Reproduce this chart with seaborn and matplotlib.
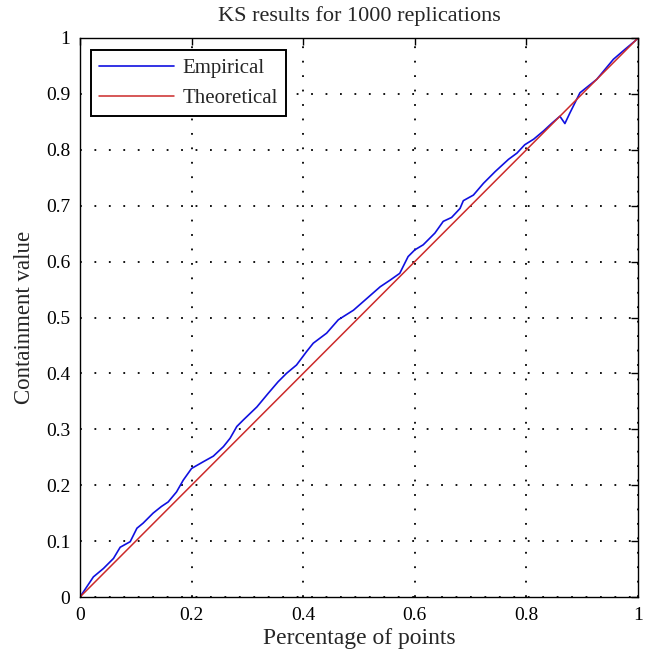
import matplotlib
matplotlib.use("Agg")
import matplotlib.pyplot as plt
import seaborn as sns
import pandas as pd

emp_x = [0.000, 0.024, 0.042, 0.060, 0.072, 0.090, 0.102, 0.113, 0.131, 0.146,
         0.158, 0.173, 0.185, 0.200, 0.221, 0.239, 0.257, 0.269, 0.281, 0.293,
         0.317, 0.337, 0.355, 0.370, 0.388, 0.406, 0.418, 0.442, 0.463, 0.490,
         0.514, 0.538, 0.556, 0.573, 0.582, 0.588, 0.600, 0.615, 0.636, 0.651,
         0.666, 0.681, 0.687, 0.705, 0.723, 0.744, 0.768, 0.783, 0.797, 0.813,
         0.831, 0.845, 0.860, 0.869, 0.878, 0.896, 0.926, 0.956, 0.977, 0.995,
         1.000]
emp_y = [0.000, 0.036, 0.051, 0.069, 0.089, 0.099, 0.123, 0.132, 0.150, 0.162,
         0.170, 0.188, 0.209, 0.230, 0.242, 0.252, 0.269, 0.284, 0.305, 0.317,
         0.340, 0.364, 0.385, 0.400, 0.415, 0.439, 0.454, 0.472, 0.496, 0.513,
         0.534, 0.555, 0.567, 0.579, 0.597, 0.609, 0.621, 0.630, 0.651, 0.672,
         0.679, 0.695, 0.709, 0.719, 0.740, 0.761, 0.783, 0.794, 0.809, 0.819,
         0.834, 0.847, 0.860, 0.847, 0.866, 0.902, 0.926, 0.962, 0.980, 0.995,
         1.000]
theo_x = [0.0, 1.0]
theo_y = [0.0, 1.0]
ticks = [0, 0.1, 0.2, 0.3, 0.4, 0.5, 0.6, 0.7, 0.8, 0.9, 1]
xtick_labels = ["0", "0.2", "0.4", "0.6", "0.8", "1"]
ytick_labels = ["0", "0.1", "0.2", "0.3", "0.4", "0.5", "0.6", "0.7", "0.8", "0.9", "1"]

sns.set_style("white")
plt.rcParams["font.family"] = ["Liberation Serif", "DejaVu Serif"]

df_emp = pd.DataFrame({"x": emp_x, "y": emp_y})
df_theo = pd.DataFrame({"x": theo_x, "y": theo_y})

fig = plt.figure(figsize=(6.5, 6.58), dpi=100)
ax = fig.add_axes([80/650, 61/658, 558/650, 559/658])

sns.lineplot(data=df_emp, x="x", y="y", ax=ax, color="#1010e0", lw=1.2,
             label="Empirical", sort=False, estimator=None)
sns.lineplot(data=df_theo, x="x", y="y", ax=ax, color="#cc2a2a", lw=1.1,
             label="Theoretical", sort=False, estimator=None)

ax.set_xlim(0, 1)
ax.set_ylim(0, 1)
ax.set_xticks([0, 0.2, 0.4, 0.6, 0.8, 1])
ax.set_xticklabels(xtick_labels)
ax.set_yticks(ticks)
ax.set_yticklabels(ytick_labels)
ax.grid(True, color="black", linestyle=(0, (1, 7)), linewidth=1.3)
ax.tick_params(direction="in", length=5, width=1, top=True, right=True,
               labelsize=14, colors="black")
ax.tick_params(axis="y", pad=7)
ax.tick_params(axis="x", pad=7)
for s in ax.spines.values():
    s.set_visible(True)
    s.set_color("black")
    s.set_linewidth(1.0)

ax.set_title("KS results for 1000 replications", fontsize=16, pad=12)
ax.set_xlabel("Percentage of points", fontsize=17, labelpad=3)
ax.set_ylabel("Containment value", fontsize=16.5, labelpad=8)

leg = ax.legend(loc="upper left", fontsize=15, frameon=True, fancybox=False,
                edgecolor="black", framealpha=1, borderpad=0.4,
                handlelength=3.6, handletextpad=0.4, labelspacing=0.5,
                borderaxespad=0, bbox_to_anchor=(11/558, 1 - 12/559))
leg.get_frame().set_linewidth(1.4)

fig.savefig("out.png", dpi=100)
